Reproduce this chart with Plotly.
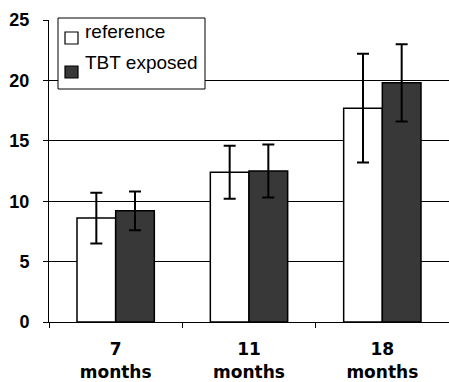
import plotly.graph_objects as go

categories = ["7<br>months", "11<br>months", "18<br>months"]
reference_vals = [8.6, 12.4, 17.7]
reference_err = [2.1, 2.2, 4.5]
tbt_vals = [9.2, 12.5, 19.8]
tbt_err = [1.6, 2.2, 3.2]
y_ticks = [0, 5, 10, 15, 20, 25]
legend_labels = ["reference", "TBT exposed"]
legend_colors = ["white", "#383838"]

FONT = "Arial, Liberation Sans, sans-serif"

fig = go.Figure()
fig.add_trace(go.Bar(
    x=categories, y=reference_vals, name=legend_labels[0],
    marker=dict(color=legend_colors[0], line=dict(color="black", width=1.5)),
    error_y=dict(type="data", array=reference_err, visible=True,
                 color="black", thickness=2, width=6),
))
fig.add_trace(go.Bar(
    x=categories, y=tbt_vals, name=legend_labels[1],
    marker=dict(color=legend_colors[1], line=dict(color="black", width=1.5)),
    error_y=dict(type="data", array=tbt_err, visible=True,
                 color="black", thickness=2, width=6),
))

# Manual legend (pixel placement converted to paper coords)
W, H = 449, 382
L, R, T, B = 49, 0, 20, 60
pw, ph = W - L - R, H - T - B
def px(x):
    return (x - L) / pw
def py(y):
    return (H - B - y) / ph

shapes = [dict(type="rect", xref="paper", yref="paper",
               x0=px(58), x1=px(205), y0=py(89), y1=py(18),
               fillcolor="white", line=dict(color="black", width=1), layer="above")]
annotations = []
sq_top = [32, 66]
txt_mid = [32, 63]
for i, lab in enumerate(legend_labels):
    shapes.append(dict(type="rect", xref="paper", yref="paper",
                       x0=px(65), x1=px(78), y0=py(sq_top[i] + 12), y1=py(sq_top[i]),
                       fillcolor=legend_colors[i], line=dict(color="black", width=1.2),
                       layer="above"))
    annotations.append(dict(text=lab, xref="paper", yref="paper",
                            x=px(83), y=py(txt_mid[i]), xanchor="left", yanchor="middle",
                            showarrow=False,
                            font=dict(size=19, family=FONT, color="black")))

fig.update_layout(
    width=W, height=H,
    margin=dict(l=L, r=R, t=T, b=B),
    paper_bgcolor="white", plot_bgcolor="white",
    barmode="group", bargap=0.42, bargroupgap=0,
    font=dict(family=FONT, color="black"),
    showlegend=False,
    shapes=shapes, annotations=annotations,
    xaxis=dict(
        type="category", range=[-0.5, 2.5],
        showline=True, linecolor="black", linewidth=1,
        ticks="outside", ticklen=5, tickcolor="black", tickson="boundaries",
        tickfont=dict(size=17, family="DejaVu Sans", color="black", weight="bold"),
        ticklabelstandoff=12,
        showgrid=False,
    ),
    yaxis=dict(
        range=[0, 25], tickvals=y_ticks,
        showline=True, linecolor="black", linewidth=1,
        ticks="outside", ticklen=5, tickcolor="black",
        showgrid=True, gridcolor="black", gridwidth=1,
        zeroline=False,
        ticklabelstandoff=10,
        tickfont=dict(size=18, family=FONT, color="black", weight="bold"),
    ),
)

fig.write_html("out.html")
